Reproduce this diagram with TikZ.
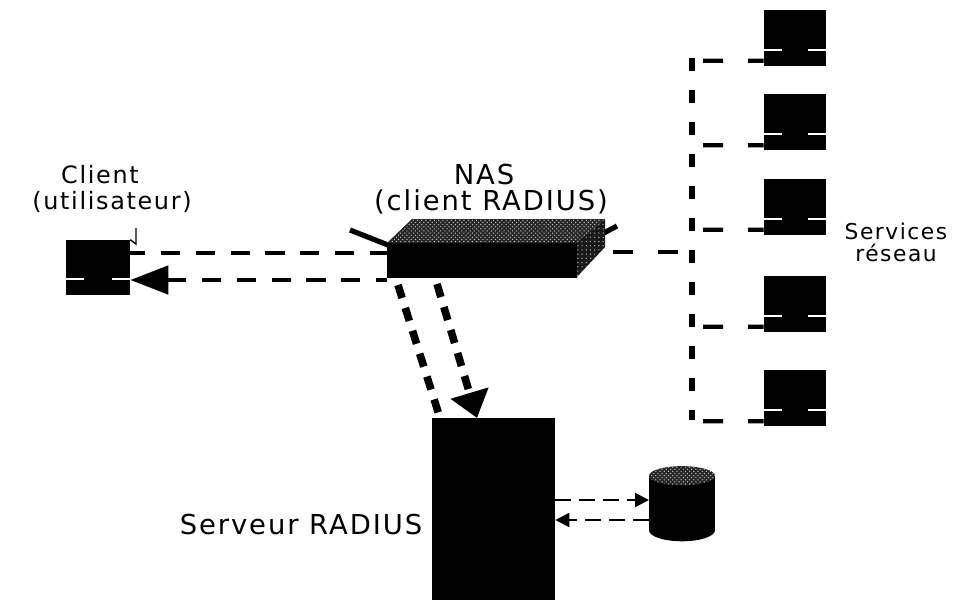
\documentclass[tikz,border=0pt]{standalone}
\usepackage{fontspec}
\setmainfont[LetterSpace=7]{DejaVu Sans}
\usetikzlibrary{arrows.meta,patterns}
\tikzset{
  box/.style={fill=black,draw=none,inner sep=0pt,rectangle},
  label/.style={font=\fontsize{19.5}{19}\selectfont,inner sep=0pt,align=center},
  midlabel/.style={font=\fontsize{17}{18}\selectfont,inner sep=0pt,align=center},
  smalllabel/.style={font=\fontsize{15.5}{15.5}\selectfont,inner sep=0pt,align=center},
  bigdash/.style={line width=1.15mm,dash pattern=on 4.8mm off 3.9mm},
  busdash/.style={line width=1.6mm,dash pattern=on 3.3mm off 4.7mm},
  stubdash/.style={line width=1.1mm,dash pattern=on 5mm off 6.3mm},
  slantdash/.style={line width=1.9mm,dash pattern=on 3.4mm off 2.6mm},
  thindash/.style={line width=0.5mm,dash pattern=on 4mm off 2mm},
}
% a black station with its white slot, centre given in pixels
\newcommand{\lhost}[4]{%
  \node[box,minimum width=#3*0.25mm,minimum height=#4*0.25mm] (#1) at (#2) {};
  \draw[white,line width=0.5mm] ([yshift=4mm]#1.south west) -- ++(18,0);
  \draw[white,line width=0.5mm] ([yshift=4mm]#1.south east) -- ++(-18,0);}
% one dashed branch from the bus to a station
\newcommand{\lbranch}[1]{%
  \draw[stubdash] (bustop |- #1.south) ++(11,-5) -- ([yshift=1.25mm]#1.south west);}
\begin{document}
\begin{tikzpicture}[x=0.25mm,y=-0.25mm]
  \useasboundingbox (0,0) rectangle (955,600);
  \lhost{client}{98,267.5}{64}{55}
  \draw[line width=0.35mm] (136,228) -- (136,244) -- (client.north east);
  \foreach \n/\y in {hostA/37.5,hostB/122,hostC/206.5,hostD/303.5,hostE/398}{
    \lhost{\n}{795,\y}{62}{56}
  }
  % NAS
  \draw[line width=1.3mm] (350,230) -- (388,245);
  \draw[line width=1.3mm] (600,235) -- (617,226);
  \fill[black!85,postaction={pattern=crosshatch dots,pattern color=white!75!black}]
    (387,243) -- (412,219) -- (605,219) -- (576,243) -- cycle;
  \fill[black!90,postaction={pattern=dots,pattern color=white!70!black}]
    (576,243) -- (605,219) -- (605,247) -- (576,278) -- cycle;
  \node[box,minimum width=47.5mm,minimum height=8.75mm] (nas) at (481.5,260.5) {};
  % serveur et base
  \node[box,minimum width=30.75mm,minimum height=45.5mm] (radius) at (493.5,509) {};
  \node[box,minimum width=16.5mm,minimum height=13.5mm] (db) at (682,503) {};
  \fill (db.south) ellipse [x radius=8.25mm,y radius=2.75mm];
  \fill[black!85,postaction={pattern=crosshatch dots,pattern color=white!75!black}]
    (db.north) ellipse [x radius=8.25mm,y radius=2.4mm];
  % liaisons
  \coordinate (nasA) at (387,253);
  \coordinate (nasB) at (387,280);
  \coordinate (nasC) at (576,252);
  \coordinate (bustop) at (692,58);
  \coordinate (busend) at (692,420);
  \coordinate (nasD) at (398,285);
  \coordinate (nasE) at (437,284);
  \coordinate (radA) at (440,418);
  \coordinate (radB) at (477,418);
  \draw[bigdash,dash phase=1mm] (client.east |- nasA) -- (nasA);
  \draw[bigdash,{Triangle[length=9.5mm,width=7mm]}-] (client.east |- nasB) -- (nasB);
  \draw[stubdash,shorten <=9.25mm,shorten >=3mm] (nasC) -- (bustop |- nasC);
  \draw[busdash] (bustop) -- (busend);
  \foreach \n in {hostA,hostB,hostC,hostD,hostE}{
    \lbranch{\n}
  }
  \draw[slantdash] (nasD) -- (radA);
  \draw[slantdash,-{Triangle[length=6.5mm,width=9.5mm]}] (nasE) -- (radB);
  \coordinate (dbA) at (649,500);
  \coordinate (dbB) at (649,520);
  \draw[thindash,-{Triangle[length=3.5mm,width=3.5mm]}] (radius.east |- dbA) -- (dbA);
  \draw[thindash,-{Triangle[length=3.5mm,width=3.5mm]}] (dbB) -- (radius.east |- dbB);
  % textes
  \node[midlabel] (clientlab) at (112,189) {Client\hspace*{6mm}\\(utilisateur)};
  \node[label] (naslab) at (491,189) {NAS\hspace*{3.5mm}\\(client RADIUS)};
  \node[smalllabel] (serviceslab) at (896,242) {Services\\réseau};
  \node[label] (radiuslab) at (301,525) {Serveur RADIUS};
\end{tikzpicture}
\end{document}
